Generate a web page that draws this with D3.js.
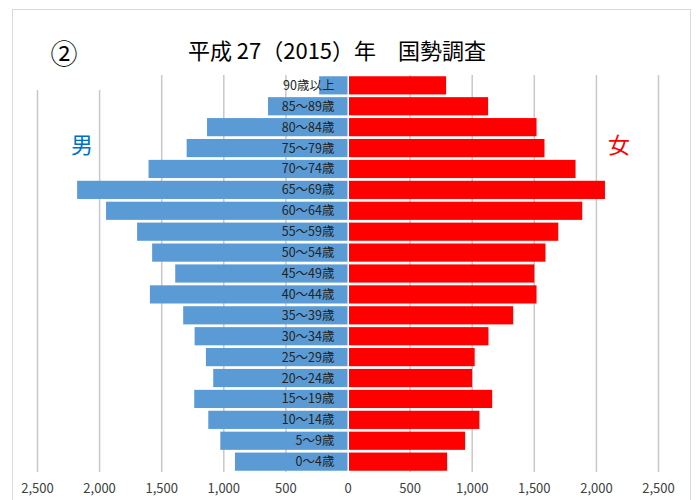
<!DOCTYPE html>
<head>
  <meta charset="utf-8">
  <script src="https://d3js.org/d3.v7.min.js"></script>
  <style>
    body { margin: 0; background: #fff; }
    svg { display: block; font-family: "Noto Sans CJK JP", "Noto Sans", sans-serif; }
  </style>
</head>
<body>
  <svg width="699" height="500"></svg>
  <script>
    // data (people), top row first
    var ages = ["90歳以上", "85～89歳", "80～84歳", "75～79歳", "70～74歳", "65～69歳",
                "60～64歳", "55～59歳", "50～54歳", "45～49歳", "40～44歳", "35～39歳",
                "30～34歳", "25～29歳", "20～24歳", "15～19歳", "10～14歳", "5～9歳", "0～4歳"];
    var male   = [228, 640, 1131, 1295, 1602, 2177, 1944, 1694, 1573, 1387, 1591, 1323,
                  1231, 1140, 1081, 1234, 1121, 1024, 906];
    var female = [794, 1132, 1522, 1586, 1836, 2073, 1890, 1697, 1594, 1504, 1522, 1334,
                  1135, 1024, 1003, 1165, 1062, 947, 802];
    var ticks = [-2500, -2000, -1500, -1000, -500, 0, 500, 1000, 1500, 2000, 2500];

    // options
    var plot = {"top": 75, "bottom": 472, "left": 37, "right": 658};

    var svg = d3.select('svg');

    // chart frame
    svg.append('rect')
      .attr('x', 12.5).attr('y', 9.5)
      .attr('width', 678).attr('height', 500)
      .attr('fill', 'none')
      .attr('stroke', '#d9d9d9');

    // scales
    var xScale = d3.scaleLinear()
      .domain([-2500, 2500])
      .range([plot.left, plot.right]);

    var yScale = d3.scaleBand()
      .domain(ages)
      .range([plot.top, plot.bottom])
      .paddingInner(0.13)
      .paddingOuter(0.06);

    // gridlines
    var grid = d3.axisBottom(xScale)
      .tickValues(ticks.filter(function(d){ return d !== 0; }))
      .tickSize(-(plot.bottom - plot.top))
      .tickFormat('');
    svg.append('g')
      .attr('transform', 'translate(0,' + plot.bottom + ')')
      .call(grid)
      .call(function(g){ g.select('.domain').remove(); })
      .selectAll('line')
      .attr('stroke', '#c8c8c8')
      .attr('stroke-width', 1.5);

    // box behind the ② label
    svg.append('rect')
      .attr('x', 20).attr('y', 20)
      .attr('width', 110).attr('height', 70)
      .attr('fill', '#fff');

    // male bars
    svg.append('g').selectAll('rect')
      .data(male)
      .enter().append('rect')
      .attr('x', function(d){ return xScale(-d); })
      .attr('y', function(d, i){ return yScale(ages[i]); })
      .attr('width', function(d){ return xScale(0) - xScale(-d); })
      .attr('height', yScale.bandwidth())
      .attr('fill', '#5b9bd5');

    // female bars
    svg.append('g').selectAll('rect')
      .data(female)
      .enter().append('rect')
      .attr('x', xScale(0) + 1.5)
      .attr('y', function(d, i){ return yScale(ages[i]); })
      .attr('width', function(d){ return xScale(d) - xScale(0) - 1.5; })
      .attr('height', yScale.bandwidth())
      .attr('fill', '#ff0000');

    // age labels
    svg.append('g').selectAll('text')
      .data(ages)
      .enter().append('text')
      .attr('x', xScale(0) - 13)
      .attr('y', function(d){ return yScale(d) + yScale.bandwidth() / 2; })
      .attr('dy', '0.36em')
      .attr('text-anchor', 'end')
      .attr('font-size', 12.5)
      .attr('fill', '#222')
      .text(function(d){ return d; });

    // x axis
    var xAxis = d3.axisBottom(xScale)
      .tickValues(ticks)
      .tickSize(0)
      .tickPadding(12)
      .tickFormat(function(d){ return d3.format(',')(Math.abs(d)); });
    svg.append('g')
      .attr('transform', 'translate(0,' + plot.bottom + ')')
      .call(xAxis)
      .call(function(g){ g.select('.domain').remove(); })
      .selectAll('text')
      .attr('font-size', 13)
      .attr('font-family', '"Noto Sans CJK JP", sans-serif')
      .attr('fill', '#404040');

    // titles
    svg.append('text')
      .attr('x', 64).attr('y', 55)
      .attr('dy', '0.35em')
      .attr('text-anchor', 'middle')
      .attr('font-size', 27)
      .attr('fill', '#000')
      .text('②');

    svg.append('text')
      .attr('x', 337).attr('y', 51)
      .attr('dy', '0.35em')
      .attr('text-anchor', 'middle')
      .attr('font-size', 22)
      .attr('fill', '#000')
      .text('平成 27（2015）年　国勢調査');

    svg.append('text')
      .attr('x', 82).attr('y', 145)
      .attr('dy', '0.35em')
      .attr('text-anchor', 'middle')
      .attr('font-size', 22)
      .attr('fill', '#0070c0')
      .text('男');

    svg.append('text')
      .attr('x', 619).attr('y', 145)
      .attr('dy', '0.35em')
      .attr('text-anchor', 'middle')
      .attr('font-size', 22)
      .attr('fill', '#ff0000')
      .text('女');
  </script>
</body>
